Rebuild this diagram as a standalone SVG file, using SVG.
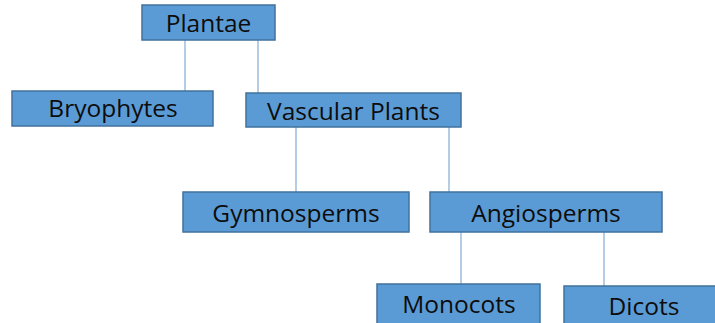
<svg xmlns="http://www.w3.org/2000/svg" width="715" height="323" viewBox="0 0 715 323">
<style>
.box{fill:#5B9BD5;stroke:#41719C;stroke-width:1.5}
.lbl{font-family:"Open Sans","Liberation Sans",sans-serif;font-size:24.5px;fill:#0d0d0d;text-anchor:middle;dominant-baseline:central}
.conn{stroke:#8DB3D6;stroke-width:1.3;fill:none}
</style>
<rect width="715" height="323" fill="#fff"/>
<g id="connectors">
<line class="conn" x1="185" y1="40" x2="185" y2="91"/>
<line class="conn" x1="258" y1="40" x2="258" y2="93"/>
<line class="conn" x1="296" y1="127" x2="296" y2="192"/>
<line class="conn" x1="449" y1="127" x2="449" y2="192"/>
<line class="conn" x1="461" y1="232" x2="461" y2="284"/>
<line class="conn" x1="604" y1="232" x2="604" y2="286"/>
</g>
<g id="plantae"><rect class="box" x="142" y="5" width="133" height="35"/><text class="lbl" x="208.5" y="22">Plantae</text></g>
<g id="bryophytes"><rect class="box" x="12" y="91" width="201" height="35"/><text class="lbl" x="113" y="107.5">Bryophytes</text></g>
<g id="vascular"><rect class="box" x="246" y="93" width="215" height="34"/><text class="lbl" x="353.5" y="110">Vascular Plants</text></g>
<g id="gymnosperms"><rect class="box" x="183" y="192" width="226" height="40"/><text class="lbl" x="296" y="212">Gymnosperms</text></g>
<g id="angiosperms"><rect class="box" x="430" y="192" width="232" height="40"/><text class="lbl" x="546" y="212">Angiosperms</text></g>
<g id="monocots"><rect class="box" x="377" y="284" width="163" height="45"/><text class="lbl" x="459" y="303">Monocots</text></g>
<g id="dicots"><rect class="box" x="564" y="286" width="160" height="45"/><text class="lbl" x="644" y="305">Dicots</text></g>
</svg>
